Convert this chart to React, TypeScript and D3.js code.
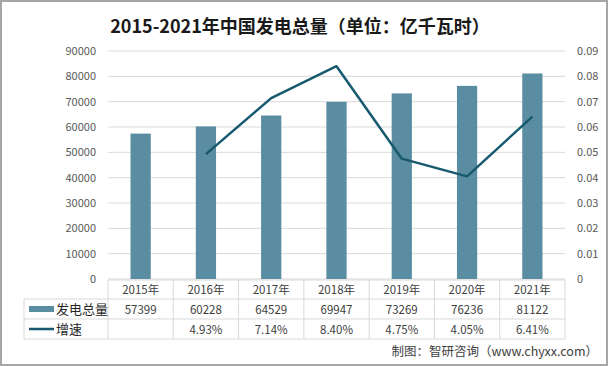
import React, { useRef, useEffect } from "react";
import * as d3 from "d3";

const years = ["2015年", "2016年", "2017年", "2018年", "2019年", "2020年", "2021年"];
const output = [57399, 60228, 64529, 69947, 73269, 76236, 81122];
const growth: (number | null)[] = [null, 4.93, 7.14, 8.4, 4.75, 4.05, 6.41];
const leftTicks = [0, 10000, 20000, 30000, 40000, 50000, 60000, 70000, 80000, 90000];
const rightTicks = [0, 0.01, 0.02, 0.03, 0.04, 0.05, 0.06, 0.07, 0.08, 0.09];

const W = 608;
const H = 366;
const FONT = "'Noto Sans CJK SC', 'Noto Sans', sans-serif";

function App() {
    const svgRef = useRef<SVGSVGElement>(null);
    useEffect(() => {
        const svg = d3.select(svgRef.current);
        svg.selectChildren().remove();

        const x0 = 108, x1 = 565, yTop = 51, yBot = 279;
        const barColor = "#5b8da2";
        const lineColor = "#17596f";

        // frame
        svg.append("rect").attr("x", 1).attr("y", 1).attr("width", W - 2).attr("height", H - 2)
            .attr("fill", "#fff").attr("stroke", "#a6a6a6").attr("stroke-width", 2);

        svg.append("text").attr("x", 300).attr("y", 33).attr("text-anchor", "middle")
            .attr("font-family", FONT).attr("font-size", 18).attr("font-weight", "bold")
            .attr("fill", "#1a1a1a").text("2015-2021年中国发电总量（单位：亿千瓦时）");

        const xScale = d3.scaleBand().domain(years).range([x0, x1]).paddingInner(0.69).paddingOuter(0.345);
        const band = d3.scaleBand().domain(years).range([x0, x1]);
        const yLeft = d3.scaleLinear().domain([0, 90000]).range([yBot, yTop]);
        const yRight = d3.scaleLinear().domain([0, 0.09]).range([yBot, yTop]);

        // gridlines
        svg.append("g").selectAll("line").data(leftTicks).join("line")
            .attr("x1", x0).attr("x2", x1)
            .attr("y1", d => yLeft(d)).attr("y2", d => yLeft(d))
            .attr("stroke", "#d9d9d9").attr("stroke-width", 1);

        svg.append("g").selectAll("text").data(leftTicks).join("text")
            .attr("x", 96).attr("y", d => yLeft(d) + 4).attr("text-anchor", "end")
            .attr("font-family", FONT).attr("font-size", 11).attr("fill", "#595959")
            .text(d => String(d));

        svg.append("g").selectAll("text").data(rightTicks).join("text")
            .attr("x", 577).attr("y", d => yRight(d) + 4).attr("text-anchor", "start")
            .attr("font-family", FONT).attr("font-size", 11).attr("fill", "#595959")
            .text(d => (d === 0 ? "0" : d3.format(".2f")(d)));

        // bars
        svg.append("g").selectAll("rect").data(output).join("rect")
            .attr("x", (d, i) => xScale(years[i])!)
            .attr("width", xScale.bandwidth())
            .attr("y", d => yLeft(d))
            .attr("height", d => yBot - yLeft(d))
            .attr("fill", barColor);

        // growth line
        const pts = growth.map((g, i) => ({ g, i })).filter(p => p.g !== null);
        svg.append("path")
            .datum(pts)
            .attr("fill", "none")
            .attr("stroke", lineColor)
            .attr("stroke-width", 2.5)
            .attr("stroke-linejoin", "round")
            .attr("d", d3.line<{ g: number | null; i: number }>()
                .x(p => band(years[p.i])! + band.bandwidth() / 2)
                .y(p => yRight((p.g as number) / 100)));

        // data table
        const rows = [280, 299, 319, 339];
        const tbl = svg.append("g").attr("stroke", "#d9d9d9").attr("stroke-width", 1);
        tbl.append("line").attr("x1", x0).attr("x2", x1).attr("y1", rows[0]).attr("y2", rows[0]);
        [rows[1], rows[2], rows[3]].forEach(y => {
            tbl.append("line").attr("x1", 24).attr("x2", x1).attr("y1", y).attr("y2", y);
        });
        tbl.append("line").attr("x1", 24).attr("x2", 24).attr("y1", rows[1]).attr("y2", rows[3]);
        tbl.selectAll("line.v").data(years.concat(["end"])).join("line")
            .attr("class", "v")
            .attr("x1", (d, i) => x0 + i * band.step()).attr("x2", (d, i) => x0 + i * band.step())
            .attr("y1", rows[0]).attr("y2", rows[3]);

        const cellText = (y: number, vals: string[]) => {
            svg.append("g").selectAll("text").data(vals).join("text")
                .attr("x", (d, i) => band(years[i])! + band.bandwidth() / 2)
                .attr("y", y).attr("text-anchor", "middle")
                .attr("font-family", FONT).attr("font-size", 11.5).attr("fill", "#404040")
                .text(d => d);
        };
        cellText(294, years);
        cellText(314, output.map(String));
        cellText(334, growth.map(g => (g === null ? "" : g.toFixed(2) + "%")));

        // legend cells
        svg.append("rect").attr("x", 29).attr("y", 306).attr("width", 25).attr("height", 6).attr("fill", barColor);
        svg.append("line").attr("x1", 29).attr("x2", 54).attr("y1", 329).attr("y2", 329)
            .attr("stroke", lineColor).attr("stroke-width", 2.5);
        svg.append("text").attr("x", 56).attr("y", 314).attr("font-family", FONT).attr("font-size", 13)
            .attr("fill", "#262626").text("发电总量");
        svg.append("text").attr("x", 56).attr("y", 334).attr("font-family", FONT).attr("font-size", 13)
            .attr("fill", "#262626").text("增速");

        svg.append("text").attr("x", 598).attr("y", 356).attr("text-anchor", "end")
            .attr("font-family", FONT).attr("font-size", 12.5).attr("fill", "#404040")
            .text("制图：智研咨询（www.chyxx.com）");
    }, []);
    return (
        <React.Fragment>
            <svg ref={svgRef} width={W} height={H}
                style={{ position: "fixed", left: 0, top: 0, display: "block" }}></svg>
        </React.Fragment>
    );
}

export default App;
